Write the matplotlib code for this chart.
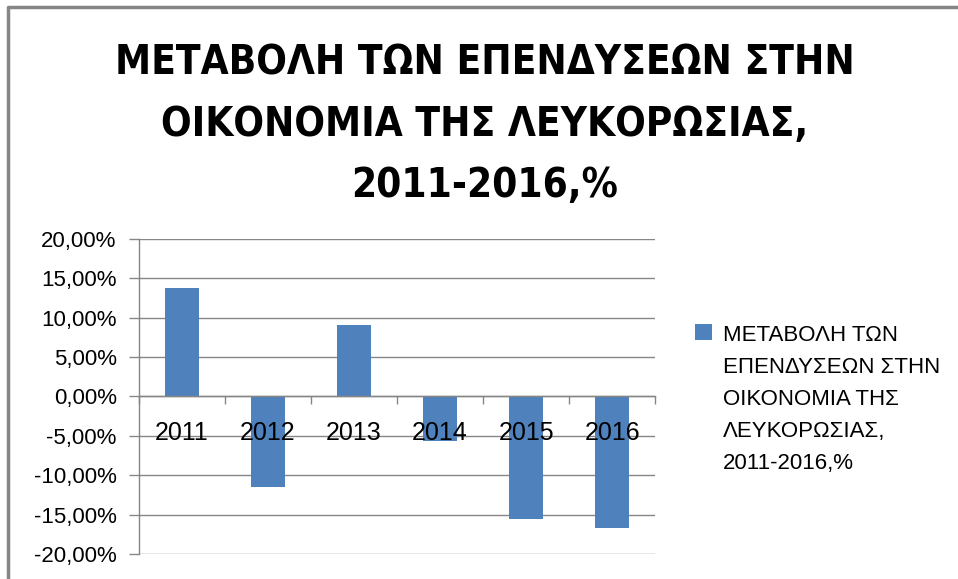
import matplotlib
matplotlib.use("Agg")
import matplotlib.pyplot as plt
from matplotlib.ticker import FixedLocator, FuncFormatter
from matplotlib.lines import Line2D
from matplotlib.patches import Rectangle
from matplotlib.legend_handler import HandlerPatch

# data
years = ["2011", "2012", "2013", "2014", "2015", "2016"]
change = [0.138, -0.115, 0.091, -0.057, -0.156, -0.167]
series_name = "ΜΕΤΑΒΟΛΗ ΤΩΝ\nΕΠΕΝΔΥΣΕΩΝ ΣΤΗΝ\nΟΙΚΟΝΟΜΙΑ ΤΗΣ\nΛΕΥΚΟΡΩΣΙΑΣ,\n2011-2016,%"
title = "ΜΕΤΑΒΟΛΗ ΤΩΝ ΕΠΕΝΔΥΣΕΩΝ ΣΤΗΝ\nΟΙΚΟΝΟΜΙΑ ΤΗΣ ΛΕΥΚΟΡΩΣΙΑΣ,\n2011-2016,%"
y_ticks = [-0.20, -0.15, -0.10, -0.05, 0.0, 0.05, 0.10, 0.15, 0.20]

bar_color = "#4F81BD"
grey = "#868686"
leg_spacing = 1.68

plt.rcParams["font.family"] = ["Liberation Sans", "DejaVu Sans"]

fig = plt.figure(figsize=(9.58, 5.79), dpi=100)
ax = fig.add_axes([0.145, 0.0432, 0.539, 0.544])

x = list(range(len(years)))
bars = ax.bar(x, change, width=0.39, color=bar_color, zorder=2, label=series_name)

ax.set_xlim(-0.5, len(years) - 0.5)
ax.set_ylim(-0.20, 0.20)

# y axis, percent with comma decimals
ax.yaxis.set_major_locator(FixedLocator(y_ticks))
ax.yaxis.set_major_formatter(FuncFormatter(lambda v, p: f"{v * 100:.2f}%".replace(".", ",")))
ax.yaxis.grid(True, color=grey, lw=1)
ax.tick_params(axis="y", direction="out", length=7, width=1, color=grey,
               labelsize=16, pad=9)

# category axis crossing at zero, ticks between categories
ax.spines["bottom"].set_position(("data", 0))
ax.xaxis.set_major_locator(FixedLocator([i - 0.5 for i in range(len(years) + 1)]))
ax.xaxis.set_major_formatter(FuncFormatter(lambda v, p: ""))
ax.set_xticks(x, years, minor=True)
ax.tick_params(axis="x", which="major", direction="out", length=6, width=1, color=grey)
ax.tick_params(axis="x", which="minor", length=0, labelsize=18, pad=18)

# grid under the bars, year labels over them
ax.yaxis.set_zorder(1)
ax.xaxis.set_zorder(5)

for s in ["top", "right"]:
    ax.spines[s].set_visible(False)
for s in ["left", "bottom"]:
    ax.spines[s].set_color(grey)
    ax.spines[s].set_linewidth(1)
    ax.spines[s].set_zorder(4)

# title
fig.text(0.506, 0.925, title, ha="center", va="top", fontsize=29, fontweight="bold",
         family="DejaVu Sans", fontstretch="condensed", linespacing=1.69)

# legend, box lined up with first line of the label
class TopHandler(HandlerPatch):
    def create_artists(self, legend, orig_handle, xdescent, ydescent, width, height, fontsize, trans):
        shift = 2 * leg_spacing * 0.91 * fontsize
        p = Rectangle((-xdescent, -ydescent + shift), width, height)
        self.update_prop(p, orig_handle, legend)
        p.set_transform(trans)
        return [p]

leg = fig.legend(handles=[bars.patches[0]], labels=[series_name], loc="upper left",
                 bbox_to_anchor=(0.7255, 0.438), frameon=False, fontsize=16,
                 handlelength=0.77, handleheight=0.77, handletextpad=0.5,
                 borderpad=0, borderaxespad=0,
                 handler_map={Rectangle: TopHandler()})
for t in leg.get_texts():
    t.set_linespacing(leg_spacing)

# outer chart frame (top and left edges visible in the crop)
fig.add_artist(Line2D([8 / 958, 8 / 958, 1.0], [0.0, 1 - 7 / 579, 1 - 7 / 579],
                      transform=fig.transFigure, color=grey, lw=2.5))

fig.savefig("out.png", dpi=100)
